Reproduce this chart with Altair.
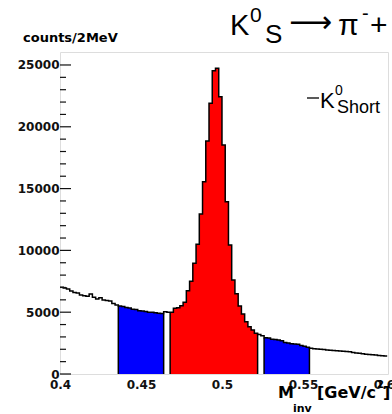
import altair as alt
import pandas as pd

# ---- data (counts per 2 MeV bin, 0.400 ... 0.602 GeV/c^2) ----
bin_width = 0.002
x_start = 0.4
counts = [
    7010, 6950, 6880, 6710, 6600, 6560, 6390, 6330, 6300, 6480,
    6200, 6070, 6170, 5990, 5950, 5910, 5700, 5580, 5500, 5460,
    5370, 5330, 5230, 5210, 5120, 5100, 5060, 4990, 5000, 4960,
    4920, 4900, 5040, 4990, 5000, 5310, 5350, 5530, 5800, 6740,
    7500, 8950, 10500, 12940, 15560, 18850, 21900, 24540, 24730, 22430,
    18530, 13940, 10440, 7600, 6500, 5500, 4850, 4230, 3830, 3560,
    3290, 3200, 3100, 2940, 2920, 2820, 2800, 2760, 2700, 2540,
    2500, 2440, 2430, 2400, 2300, 2250, 2160, 2080, 2050, 2020,
    2000, 1980, 1940, 1920, 1900, 1880, 1860, 1850, 1820, 1790,
    1740, 1690, 1670, 1640, 1600, 1570, 1550, 1540, 1500, 1480,
    1460,
]
# colored regions: (start, end, colour)
regions = [
    (0.436, 0.464, "#0000ff"),
    (0.468, 0.522, "#ff0000"),
    (0.526, 0.554, "#0000ff"),
]

y_major = [0, 5000, 10000, 15000, 20000, 25000]
y_minor = [v for v in range(1000, 25000, 1000) if v % 5000 != 0]
x_ticks = [0.4, 0.45, 0.5, 0.55, 0.6]

X_DOMAIN = [0.4, 0.6025]
Y_DOMAIN = [0, 26050]
W, H = 328, 322

# ---- tables ----
hist = pd.DataFrame({
    "x0": [round(x_start + i * bin_width, 4) for i in range(len(counts))],
    "c": counts,
})
hist["x1"] = (hist["x0"] + bin_width).round(4)
step = pd.DataFrame(
    {"x": list(hist["x0"]) + [float(hist["x1"].iloc[-1])],
     "c": list(hist["c"]) + [int(hist["c"].iloc[-1])]}
)

xs = alt.Scale(domain=X_DOMAIN, nice=False, zero=False)
ys = alt.Scale(domain=Y_DOMAIN, nice=False)

x_axis = alt.Axis(values=x_ticks, format="~g", title=None, ticks=False,
                  tickSize=0, domain=False, grid=False, labelFlush=False,
                  labelOverlap=False, labelFont="DejaVu Sans",
                  labelFontWeight="bold", labelFontSize=12,
                  labelColor="#111", labelPadding=5)
y_axis = alt.Axis(values=y_major, format="d", title=None, ticks=False,
                  tickSize=0, domain=False, grid=False,
                  labelOverlap=False, labelFont="DejaVu Sans",
                  labelFontWeight="bold", labelFontSize=12,
                  labelColor="#111", labelPadding=1)

fill_layers, edges = [], []
for a, b, col in regions:
    sub = hist[(hist["x0"] >= a - 1e-9) & (hist["x1"] <= b + 1e-9)]
    pts = pd.DataFrame({
        "x": [float(v) for v in sub["x0"]] + [b],
        "c": [int(v) for v in sub["c"]] + [int(sub["c"].iloc[-1])],
    })
    fill_layers.append(
        alt.Chart(pts).mark_area(color=col, interpolate="step-after").encode(
            x=alt.X("x:Q", scale=xs, axis=x_axis),
            y=alt.Y("c:Q", scale=ys, axis=y_axis)))
    edges.append({"x": a, "h": int(sub["c"].iloc[0]), "z": 0})
    edges.append({"x": b, "h": int(sub["c"].iloc[-1]), "z": 0})
edges = pd.DataFrame(edges)

line = alt.Chart(step).mark_line(interpolate="step-after", color="black",
                                 strokeWidth=1.5, clip=True).encode(
    x=alt.X("x:Q", scale=xs), y=alt.Y("c:Q", scale=ys))

edge_rules = alt.Chart(edges).mark_rule(color="black", strokeWidth=1.5).encode(
    x=alt.X("x:Q", scale=xs), y=alt.Y("h:Q", scale=ys), y2="z:Q")

maj = alt.Chart(pd.DataFrame({"v": y_major})).mark_rule(color="#111", strokeWidth=1.2).encode(
    y=alt.Y("v:Q", scale=ys), x=alt.value(0), x2=alt.value(11))
mnr = alt.Chart(pd.DataFrame({"v": y_minor})).mark_rule(color="#111", strokeWidth=1.2).encode(
    y=alt.Y("v:Q", scale=ys), x=alt.value(0), x2=alt.value(6))


def txt(s, x, y, size, font="Liberation Sans", weight="normal"):
    return alt.Chart(pd.DataFrame({"t": [s]})).mark_text(
        align="left", baseline="alphabetic", font=font, fontSize=size,
        fontWeight=weight, color="black").encode(
        text="t:N", x=alt.value(x), y=alt.value(y))


texts = [
    # title
    txt("K", 170, -17, 29),
    txt("0", 190, -30, 21),
    txt("S", 205, -9, 26),
    txt("\u27f6", 229, -20, 30, font="DejaVu Sans"),
    txt("\u03c0", 278, -17, 30),
    txt("-", 302, -32, 20),
    txt("+ \u03c0", 310, -17, 30),
    # y title
    txt("counts/2MeV", -37, -10, 13, font="DejaVu Sans", weight="bold"),
    # x title
    txt("M", 218, 346, 16, font="DejaVu Sans", weight="bold"),
    txt("inv", 233, 360, 11, font="DejaVu Sans", weight="bold"),
    txt("[GeV/c", 257, 346, 16, font="DejaVu Sans", weight="bold"),
    txt("2", 317, 336, 10, font="DejaVu Sans", weight="bold"),
    txt("]", 323, 346, 16, font="DejaVu Sans", weight="bold"),
    # legend
    txt("K", 260, 56, 22),
    txt("0", 275, 43, 14),
    txt("Short", 277, 61, 18),
]
legend_line = alt.Chart(pd.DataFrame({"t": [1]})).mark_rule(color="black", strokeWidth=1.3).encode(
    x=alt.value(247), x2=alt.value(259), y=alt.value(46))

chart = alt.layer(*fill_layers, line, edge_rules, maj, mnr, legend_line, *texts).properties(
    width=W, height=H,
    autosize=alt.AutoSizeParams(type="none"),
    padding={"left": 60, "top": 52, "right": 4, "bottom": 40},
).configure_view(stroke="#222", strokeWidth=1.2).configure(background="white")

chart.save("out.html", embed_options={"renderer": "svg", "actions": False})
